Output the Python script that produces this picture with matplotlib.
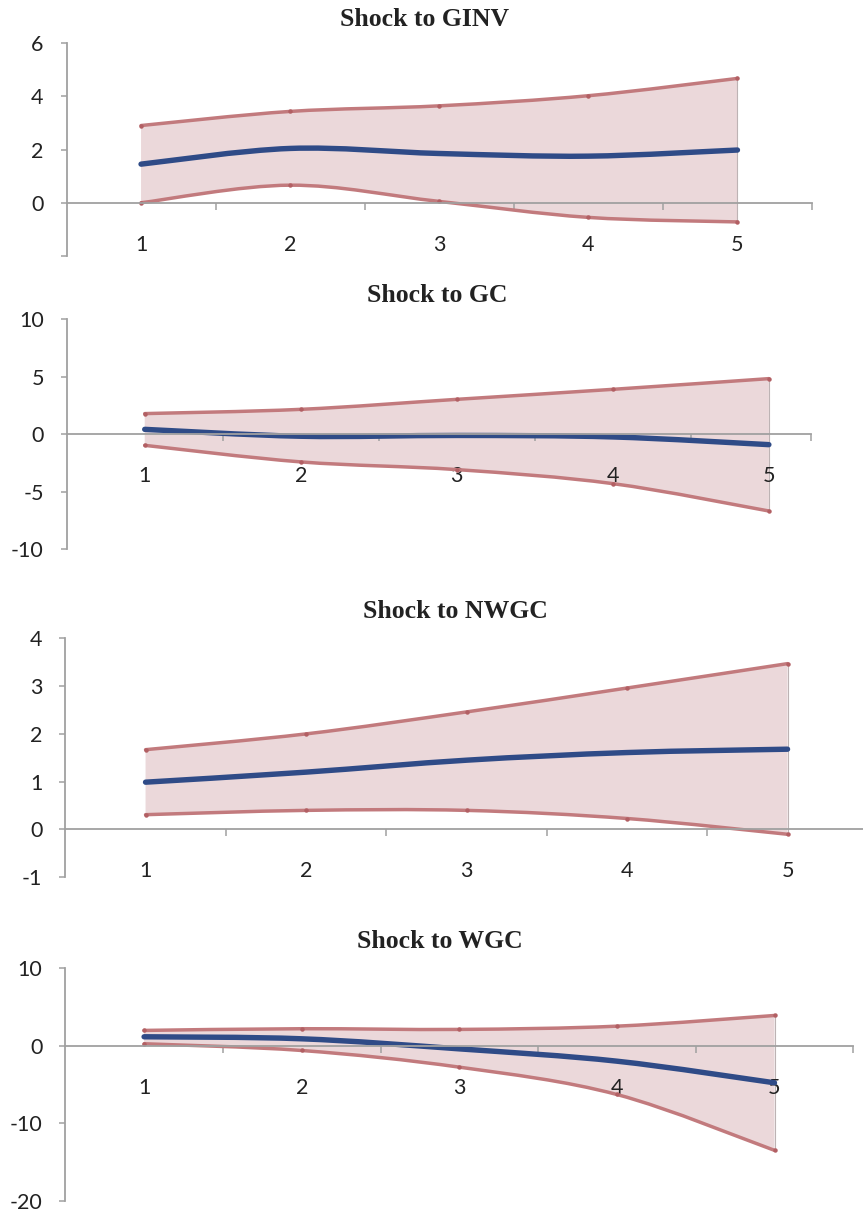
import numpy as np
import matplotlib.pyplot as plt
from matplotlib.path import Path
from matplotlib.patches import PathPatch

# Impulse responses (median and bounds) for horizons 1..5
periods = [1, 2, 3, 4, 5]
titles = ["Shock to GINV", "Shock to GC", "Shock to NWGC", "Shock to WGC"]

ginv_mid = [1.45, 2.04, 1.85, 1.75, 1.98]
ginv_up = [2.90, 3.43, 3.64, 4.02, 4.67]
ginv_lo = [0.00, 0.66, 0.05, -0.55, -0.72]

gc_mid = [0.43, -0.17, -0.10, -0.23, -0.90]
gc_up = [1.80, 2.17, 3.04, 3.91, 4.84]
gc_lo = [-0.96, -2.40, -3.07, -4.29, -6.67]

nwgc_mid = [0.99, 1.20, 1.45, 1.61, 1.68]
nwgc_up = [1.67, 2.00, 2.46, 2.96, 3.47]
nwgc_lo = [0.31, 0.40, 0.40, 0.23, -0.10]

wgc_mid = [1.16, 0.90, -0.40, -1.99, -4.78]
wgc_up = [1.98, 2.20, 2.11, 2.53, 3.91]
wgc_lo = [0.26, -0.61, -2.76, -6.29, -13.50]

yticks = [[-2, 0, 2, 4, 6], [-10, -5, 0, 5, 10], [-1, 0, 1, 2, 3, 4], [-20, -10, 0, 10]]
ytick_labels = [["", "0", "2", "4", "6"], ["-10", "-5", "0", "5", "10"],
                ["-1", "0", "1", "2", "3", "4"], ["-20", "-10", "0", "10"]]
xright = [5.5, 5.27, 5.5, 5.5]

# panel boxes in pixels: left, right, top (ymax), bottom (ymin)
W, H = 863, 1215
boxes = [(66.5, 812, 43, 256), (66.7, 811, 319.3, 549.3),
         (65.3, 867.8, 638.3, 877.3), (65.3, 853.3, 968.3, 1200.7)]
title_pos = [(424, 20), (437, 295), (455, 611), (440, 941)]

series = [(ginv_mid, ginv_up, ginv_lo), (gc_mid, gc_up, gc_lo),
          (nwgc_mid, nwgc_up, nwgc_lo), (wgc_mid, wgc_up, wgc_lo)]

BAND = "#C27A7D"
FILL = "#EBD8DA"
MID = "#2F4B87"
AXIS = "#A0A0A0"
TXT = "#222222"


def smooth_verts(x, y):
    # cubic bezier control points (Catmull-Rom style) for a smoothed line
    x = list(x)
    y = list(y)
    n = len(x)
    px = [x[0]] + x + [x[-1]]
    py = [y[0]] + y + [y[-1]]
    verts = [(x[0], y[0])]
    for i in range(1, n):
        a, b = i, i + 1
        c1 = (px[a] + (px[b] - px[a - 1]) / 6, py[a] + (py[b] - py[a - 1]) / 6)
        c2 = (px[b] - (px[b + 1] - px[a]) / 6, py[b] - (py[b + 1] - py[a]) / 6)
        verts += [c1, c2, (px[b], py[b])]
    return verts


def smooth_path(x, y):
    verts = smooth_verts(x, y)
    codes = [Path.MOVETO] + [Path.CURVE4] * (len(verts) - 1)
    return Path(verts, codes)


fig = plt.figure(figsize=(W / 100, H / 100), dpi=100)

for k in range(4):
    l, r, t, b = boxes[k]
    ax = fig.add_axes([l / W, 1 - b / H, (r - l) / W, (b - t) / H])
    mid, up, lo = series[k]

    # shaded band between the bounds
    up_v = smooth_verts(periods, up)
    lo_rev = smooth_verts(periods[::-1], lo[::-1])
    verts = up_v + [(periods[-1], lo[-1])] + lo_rev[1:] + [(periods[0], up[0])]
    codes = ([Path.MOVETO] + [Path.CURVE4] * (len(up_v) - 1) + [Path.LINETO]
             + [Path.CURVE4] * (len(lo_rev) - 1) + [Path.CLOSEPOLY])
    ax.add_patch(PathPatch(Path(verts, codes), facecolor=FILL, edgecolor="none", zorder=1))
    ax.plot([periods[-1], periods[-1]], [lo[-1], up[-1]], color="#BDB3B4", lw=0.8, zorder=1.5)

    for ys, col, lw, z in [(up, BAND, 2.5, 2), (lo, BAND, 2.5, 2), (mid, MID, 3.9, 3)]:
        ax.add_patch(PathPatch(smooth_path(periods, ys), facecolor="none", edgecolor=col,
                               lw=lw, capstyle="round", joinstyle="round", zorder=z))
    ax.plot(periods, up, ls="none", marker="o", ms=2.2, color="#B25F63", zorder=2.5)
    ax.plot(periods, lo, ls="none", marker="o", ms=2.2, color="#B25F63", zorder=2.5)

    ax.set_xlim(0.5, xright[k])
    ax.set_ylim(yticks[k][0], yticks[k][-1])
    ax.patch.set_visible(False)

    for s in ["top", "right"]:
        ax.spines[s].set_visible(False)
    ax.spines["bottom"].set_position(("data", 0))
    for s in ["left", "bottom"]:
        ax.spines[s].set_color(AXIS)
        ax.spines[s].set_linewidth(1.3)
        ax.spines[s].set_zorder(5)
        ax.spines[s].set_clip_on(False)

    ax.set_yticks(yticks[k])
    ax.set_yticklabels(ytick_labels[k])
    ax.tick_params(axis="y", direction="out", length=4.5, width=1.1, color=AXIS,
                   pad=12, labelsize=15.5, labelcolor=TXT)

    ax.set_xticks([1.5, 2.5, 3.5, 4.5, xright[k]])
    ax.set_xticklabels([])
    ax.set_xticks(periods, minor=True)
    ax.set_xticklabels([str(p) for p in periods], minor=True)
    ax.tick_params(axis="x", which="major", direction="out", length=5, width=1.1, color=AXIS)
    ax.tick_params(axis="x", which="minor", length=0, pad=23, labelsize=15.5, labelcolor=TXT)
    for lab in ax.get_xticklabels(minor=True) + ax.get_yticklabels():
        lab.set_family("Lato")

    tx, ty = title_pos[k]
    fig.text(tx / W, 1 - ty / H, titles[k], ha="center", va="center", fontsize=18.5,
             fontweight="bold", family="Liberation Serif", color=TXT)

fig.savefig("out.png", dpi=100)
